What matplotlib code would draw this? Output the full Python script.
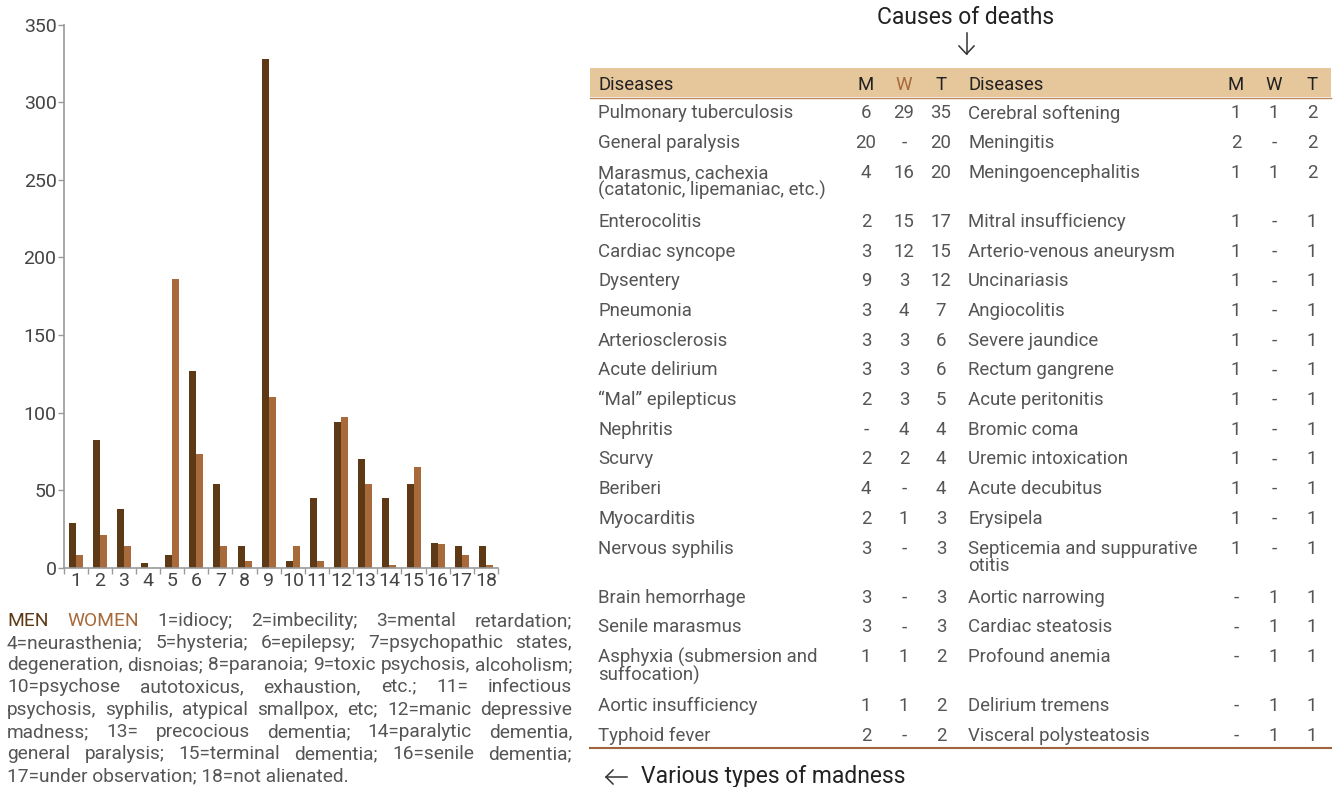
import matplotlib
matplotlib.use("Agg")
import matplotlib.pyplot as plt
import numpy as np

plt.rcParams['font.family'] = ['Roboto', 'DejaVu Sans']

# ---------------- data ----------------
categories = [str(i) for i in range(1, 19)]
men = [29, 82, 38, 3, 8, 127, 54, 14, 328, 4, 45, 94, 70, 45, 54, 16, 14, 14]
women = [8, 21, 14, 0, 186, 73, 14, 4, 110, 14, 4, 97, 54, 2, 65, 15, 8, 2]
y_ticks = [0, 50, 100, 150, 200, 250, 300, 350]

left_diseases = ["Pulmonary tuberculosis", "General paralysis",
                 "Marasmus, cachexia\n(catatonic, lipemaniac, etc.)",
                 "Enterocolitis", "Cardiac syncope", "Dysentery", "Pneumonia",
                 "Arteriosclerosis", "Acute delirium", "\u201cMal\u201d epilepticus",
                 "Nephritis", "Scurvy", "Beriberi", "Myocarditis", "Nervous syphilis",
                 "Brain hemorrhage", "Senile marasmus",
                 "Asphyxia (submersion and\nsuffocation)",
                 "Aortic insufficiency", "Typhoid fever"]
left_m = ["6", "20", "4", "2", "3", "9", "3", "3", "3", "2", "-", "2", "4", "2", "3", "3", "3", "1", "1", "2"]
left_w = ["29", "-", "16", "15", "12", "3", "4", "3", "3", "3", "4", "2", "-", "1", "-", "-", "-", "1", "1", "-"]
left_t = ["35", "20", "20", "17", "15", "12", "7", "6", "6", "5", "4", "4", "4", "3", "3", "3", "3", "2", "2", "2"]

right_diseases = ["Cerebral softening", "Meningitis", "Meningoencephalitis",
                  "Mitral insufficiency", "Arterio-venous aneurysm", "Uncinariasis",
                  "Angiocolitis", "Severe jaundice", "Rectum gangrene",
                  "Acute peritonitis", "Bromic coma", "Uremic intoxication",
                  "Acute decubitus", "Erysipela",
                  "Septicemia and suppurative\notitis",
                  "Aortic narrowing", "Cardiac steatosis", "Profound anemia",
                  "Delirium tremens", "Visceral polysteatosis"]
right_m = ["1", "2", "1", "1", "1", "1", "1", "1", "1", "1", "1", "1", "1", "1", "1", "-", "-", "-", "-", "-"]
right_w = ["1", "-", "1", "-", "-", "-", "-", "-", "-", "-", "-", "-", "-", "-", "-", "1", "1", "1", "1", "1"]
right_t = ["2", "2", "2", "1", "1", "1", "1", "1", "1", "1", "1", "1", "1", "1", "1", "1", "1", "1", "1", "1"]

legend_lines = [
    "MEN WOMEN 1=idiocy; 2=imbecility; 3=mental retardation;",
    "4=neurasthenia; 5=hysteria; 6=epilepsy; 7=psychopathic states,",
    "degeneration, disnoias; 8=paranoia; 9=toxic psychosis, alcoholism;",
    "10=psychose autotoxicus, exhaustion, etc.; 11= infectious",
    "psychosis, syphilis, atypical smallpox, etc; 12=manic depressive",
    "madness; 13= precocious dementia; 14=paralytic dementia,",
    "general paralysis; 15=terminal dementia; 16=senile dementia;",
    "17=under observation; 18=not alienated.",
]

# ---------------- style ----------------
MEN_C = "#5e3915"
WOMEN_C = "#a86a3a"
HEADER_BG = "#e6c69b"
TEXT_C = "#555555"
AXIS_C = "#9a9a9a"

W, H = 1333, 787
fig = plt.figure(figsize=(W / 100, H / 100), dpi=100)

def fx(x):
    return x / W

def fy(y):
    return 1 - y / H

def fline(xs, ys, **kw):
    fig.add_artist(plt.Line2D([fx(v) for v in xs], [fy(v) for v in ys],
                              transform=fig.transFigure, **kw))

# ---------------- bar chart ----------------
ax = fig.add_axes([fx(63.5), fy(567.7), fx(498) - fx(63.5), fy(24.7) - fy(567.7)])
x = np.arange(len(categories))
bw = 0.29
ax.bar(x - bw / 2, men, width=bw, color=MEN_C, edgecolor="none")
ax.bar(x + bw / 2, women, width=bw, color=WOMEN_C, edgecolor="none")
ax.set_xlim(-0.5, len(categories) - 0.5)
ax.set_ylim(0, 350)
ax.set_yticks(y_ticks)
ax.set_yticklabels([str(v) for v in y_ticks], fontsize=14, color="#444444")
ax.set_xticks(x)
ax.set_xticklabels(categories, fontsize=14, color="#444444")
ax.tick_params(axis="x", which="major", length=0, pad=3)
ax.set_xticks(np.arange(-0.5, len(categories)), minor=True)
ax.tick_params(axis="x", which="minor", length=4, color=AXIS_C, width=1)
ax.tick_params(axis="y", length=4, color=AXIS_C, width=1, pad=1)
for s in ["top", "right"]:
    ax.spines[s].set_visible(False)
for s in ["left", "bottom"]:
    ax.spines[s].set_color(AXIS_C)
    ax.spines[s].set_linewidth(1.2)

# ---------------- justified legend text ----------------
renderer = fig.canvas.get_renderer()
LX0, LX1 = 7, 572
line_y = [621, 643, 665, 687, 710, 732, 754, 776]
FS_LEG = 13.8

def word_color(w):
    if w == "MEN":
        return MEN_C
    if w == "WOMEN":
        return WOMEN_C
    return TEXT_C

for i, line in enumerate(legend_lines):
    if i == len(legend_lines) - 1:
        fig.text(fx(LX0), fy(line_y[i]), line, fontsize=FS_LEG, color=TEXT_C,
                 va="center", ha="left")
        continue
    words = line.split(" ")
    texts = []
    widths = []
    for w in words:
        t = fig.text(fx(LX0), fy(line_y[i]), w, fontsize=FS_LEG, color=word_color(w),
                     va="center", ha="left")
        texts.append(t)
        widths.append(t.get_window_extent(renderer).width)
    gap = (LX1 - LX0 - sum(widths)) / (len(words) - 1)
    cx = LX0
    for t, wd in zip(texts, widths):
        t.set_x(fx(cx))
        cx += wd + gap

# ---------------- table ----------------
FS_T = 13.4
fig.text(fx(966), fy(17), "Causes of deaths", fontsize=16.5, color="#222222",
         ha="center", va="center")
# down arrow
fline([966.5, 966.5], [33, 54], color="#333333", linewidth=1.1)
fline([959, 966.5, 974], [46, 54, 46], color="#333333", linewidth=1.1)

# header band
fig.patches.append(plt.Rectangle((fx(590), fy(97)), fx(1331) - fx(590), fy(68) - fy(97),
                                 transform=fig.transFigure, facecolor=HEADER_BG,
                                 edgecolor="none", zorder=0))
fline([590, 1331], [97.5, 97.5], color="#c0875a", linewidth=1.0)
hy = 84.5
cols_left = {"name": 598, "M": 866, "W": 904, "T": 941}
cols_right = {"name": 968, "M": 1236, "W": 1274, "T": 1312}
for cols in (cols_left, cols_right):
    fig.text(fx(cols["name"]), fy(hy), "Diseases", fontsize=FS_T, color="#222222",
             ha="left", va="center")
    fig.text(fx(cols["M"]), fy(hy), "M", fontsize=FS_T, color="#222222", ha="center",
             va="center")
    fig.text(fx(cols["W"]), fy(hy), "W", fontsize=FS_T,
             color=WOMEN_C if cols is cols_left else "#222222", ha="center", va="center")
    fig.text(fx(cols["T"]), fy(hy), "T", fontsize=FS_T, color="#222222", ha="center",
             va="center")

ry = 113
for i in range(len(left_diseases)):
    for cols, names, m, w, t in ((cols_left, left_diseases, left_m, left_w, left_t),
                                 (cols_right, right_diseases, right_m, right_w, right_t)):
        top = fy(ry - 8.5)
        fig.text(fx(cols["name"]), top, names[i], fontsize=FS_T, color=TEXT_C,
                 ha="left", va="top", linespacing=0.93)
        for key, vals in (("M", m), ("W", w), ("T", t)):
            fig.text(fx(cols[key]), top, vals[i], fontsize=FS_T, color=TEXT_C,
                     ha="center", va="top")
    two = ("\n" in left_diseases[i]) or ("\n" in right_diseases[i])
    ry += 29.7 + (19.3 if two else 0)

fline([590, 1331], [748, 748], color="#a0643a", linewidth=1.5)

# left arrow + caption
fline([606, 627], [777, 777], color="#333333", linewidth=1.1)
fline([613, 606, 613], [770, 777, 784], color="#333333", linewidth=1.1)
fig.text(fx(641), fy(776), "Various types of madness", fontsize=16.5, color="#222222",
         ha="left", va="center")

fig.savefig("out.png", dpi=100, facecolor="white")
